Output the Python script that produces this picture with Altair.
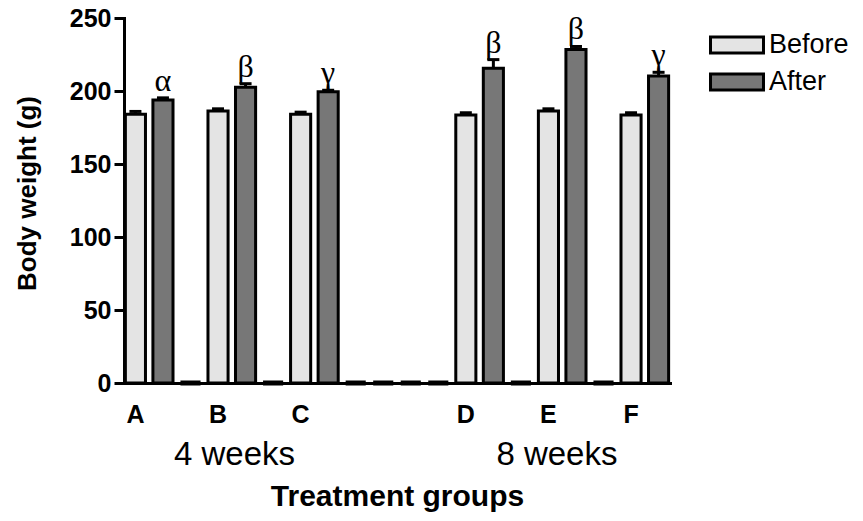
import json
import altair as alt
import pandas as pd

# ---- data ----
groups = ["A", "B", "C", "D", "E", "F"]
before = [184.0, 186.3, 184.0, 183.6, 186.3, 183.6]
before_err = [2.0, 1.5, 1.5, 1.5, 1.5, 1.5]
after = [193.8, 202.5, 199.5, 215.5, 228.5, 210.3]
after_err = [1.5, 2.5, 1.0, 6.0, 2.0, 2.5]
marks = ["α", "β", "γ", "β", "β", "γ"]
# column order on the x axis: a letter = Before/After pair, "" = empty column
layout = ["A", "", "B", "", "C", "", "", "", "", "D", "", "E", "", "F"]
periods = ["4 weeks", "8 weeks"]
period_group = ["B", "E"]
series = ["Before", "After"]

# ---- build tables ----
bars, gaps, notes = [], [], []
tick_labels = []
slot = 0
for item in layout:
    if item:
        i = groups.index(item)
        bars.append({"slot": slot, "series": "Before", "value": before[i],
                     "top": before[i] + before_err[i]})
        bars.append({"slot": slot + 1, "series": "After", "value": after[i],
                     "top": after[i] + after_err[i]})
        notes.append({"slot": slot + 1, "top": after[i] + after_err[i], "mark": marks[i]})
        tick_labels += [item, ""]
        slot += 2
    else:
        gaps.append({"slot": slot, "value": 0.0})
        tick_labels.append("")
        slot += 1
n_slots = slot

bars_df = pd.DataFrame(bars)
gaps_df = pd.DataFrame(gaps)
notes_df = pd.DataFrame(notes)
period_dfs = [
    pd.DataFrame({"slot": [tick_labels.index(g)], "text": [p]})
    for g, p in zip(period_group, periods)
]

W, H = 546, 365
FONT = "Liberation Sans"

x = alt.X(
    "slot:O",
    scale=alt.Scale(domain=list(range(n_slots)), paddingInner=0.27, paddingOuter=0.05),
    axis=alt.Axis(
        labelExpr=json.dumps(tick_labels, ensure_ascii=False) + "[datum.value]",
        labelAngle=0, ticks=False, labelPadding=19,
        labelFont=FONT, labelFontSize=25, labelFontWeight="bold", labelColor="black",
        domainColor="black", domainWidth=3,
        title="Treatment groups", titleFont=FONT, titleFontSize=30,
        titleFontWeight="bold", titleColor="black",
        titleX=W / 2, titleY=122, titleBaseline="alphabetic", titleAlign="center",
    ),
)
y_scale = alt.Scale(domain=[0, 250], nice=False)
y_axis = alt.Axis(
    values=[0, 50, 100, 150, 200, 250], grid=False,
    labelFont=FONT, labelFontSize=25, labelFontWeight="bold", labelColor="black",
    labelPadding=3, tickSize=10, tickWidth=3, tickColor="black",
    domainColor="black", domainWidth=3,
    title="Body weight (g)", titleFont=FONT, titleFontSize=26, titleFontWeight="bold",
    titleColor="black", titleAngle=270, titleX=-97, titleY=175,
    titleBaseline="middle", titleAlign="center",
)

bar_layer = alt.Chart(bars_df).mark_bar(stroke="black", strokeWidth=3).encode(
    x=x,
    y=alt.Y("value:Q", scale=y_scale, axis=y_axis),
    fill=alt.Fill(
        "series:N",
        scale=alt.Scale(domain=series, range=["#e4e4e4", "#777777"]),
        legend=alt.Legend(
            title=None, orient="none", legendX=598, legendY=12, padding=0,
            symbolType="M-2,-0.6H2V0.6H-2Z", symbolSize=702,
            symbolStrokeColor="black", symbolStrokeWidth=3, symbolOpacity=1,
            labelFont=FONT, labelFontSize=27, labelColor="black", labelOffset=17,
            rowPadding=8,
        ),
    ),
)

gap_layer = alt.Chart(gaps_df).mark_bar(stroke="black", strokeWidth=5, fill="black").encode(
    x=alt.X("slot:O"),
    y=alt.Y("value:Q"),
)

err_rule = alt.Chart(bars_df).mark_rule(color="black", strokeWidth=3).encode(
    x=alt.X("slot:O"), y=alt.Y("value:Q"), y2="top:Q",
)
err_cap = alt.Chart(bars_df).mark_tick(color="black", thickness=3, size=12, opacity=1).encode(
    x=alt.X("slot:O"), y=alt.Y("top:Q"),
)

note_layer = alt.Chart(notes_df).mark_text(
    font="Liberation Serif", fontSize=32, baseline="alphabetic", dy=-7, color="black",
).encode(x=alt.X("slot:O"), y=alt.Y("top:Q"), text="mark:N")

period_layers = [
    alt.Chart(df).mark_text(
        font=FONT, fontSize=33, baseline="alphabetic", align="center", dx=dx, color="black",
    ).encode(x=alt.X("slot:O"), y=alt.value(H + 82), text="text:N")
    for df, dx in zip(period_dfs, [16.5, 8.5])
]

chart = alt.layer(
    bar_layer, gap_layer, err_rule, err_cap, note_layer, *period_layers
).properties(
    width=W, height=H, autosize="none",
    padding={"left": 116, "top": 10, "right": 863 - 16 - 116 - W, "bottom": 130},
).configure_view(stroke=None).configure_axis(domainCap="square")

chart.save("out.html", embed_options={"renderer": "svg", "actions": False})
